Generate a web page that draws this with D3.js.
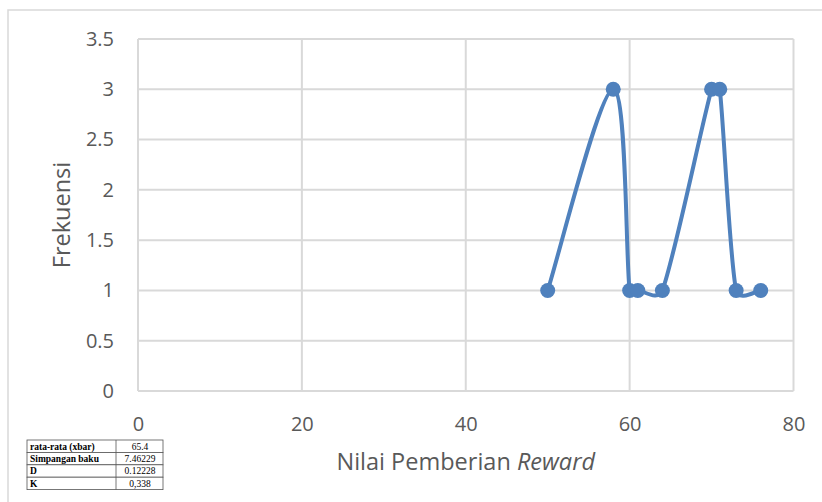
<!DOCTYPE html>
<html>
<head>
<meta charset="utf-8">
<script src="https://cdn.jsdelivr.net/npm/d3@7"></script>
<style>
  body { margin: 0; background: white; }
  svg { display: block; }
  .tick text { fill: #595959; font-family: "Open Sans", sans-serif; font-size: 20px; }
  .label { fill: #595959; font-family: "Open Sans", sans-serif; font-size: 23.5px; }
  .tabel text { font-family: "Liberation Serif", serif; font-size: 9.5px; fill: #000; }
</style>
</head>
<body>
<svg id="plot"></svg>
<script>
// data
const nilai = [50, 58, 60, 61, 64, 70, 71, 73, 76];
const frekuensi = [1, 3, 1, 1, 1, 3, 3, 1, 1];
const xTicks = [0, 20, 40, 60, 80];
const yTicks = [0, 0.5, 1, 1.5, 2, 2.5, 3, 3.5];

// tabel statistik
const statLabel = ["rata-rata (xbar)", "Simpangan baku", "D", "K"];
const statNilai = ["65.4", "7.46229", "0.12228", "0,338"];

const width = 822;
const height = 502;
const padding = {top: 39, right: 28, bottom: 111, left: 138};

const plot = d3.select("#plot")
    .attr("width", width)
    .attr("height", height);

// bingkai luar
plot.append("rect")
    .attr("x", 8).attr("y", 10)
    .attr("width", 840).attr("height", 520)
    .attr("fill", "white")
    .attr("stroke", "#d9d9d9")
    .attr("stroke-width", 1.5);

const xScale = d3.scaleLinear()
    .domain([0, 80])
    .range([padding.left, width - padding.right - 0.5]);

const yScale = d3.scaleLinear()
    .domain([0, 3.5])
    .range([height - padding.bottom, padding.top]);

// grid
plot.append("g")
    .selectAll("line.gy")
    .data(yTicks)
    .enter()
    .append("line")
      .attr("x1", xScale(0)).attr("x2", xScale(80))
      .attr("y1", (d) => yScale(d)).attr("y2", (d) => yScale(d))
      .attr("stroke", "#d9d9d9").attr("stroke-width", 2);

plot.append("g")
    .selectAll("line.gx")
    .data(xTicks)
    .enter()
    .append("line")
      .attr("x1", (d) => xScale(d)).attr("x2", (d) => xScale(d))
      .attr("y1", yScale(0)).attr("y2", yScale(3.5))
      .attr("stroke", "#d9d9d9").attr("stroke-width", 2);

// ejes
const xAxis = plot.append("g")
    .attr("transform", "translate(0," + (yScale(0) + 14) + ")")
    .call(d3.axisBottom(xScale).tickValues(xTicks).tickSize(0).tickPadding(12));
xAxis.select(".domain").remove();

const yAxis = plot.append("g")
    .attr("transform", "translate(" + (padding.left - 14) + ",0)")
    .call(d3.axisLeft(yScale).tickValues(yTicks).tickSize(0).tickPadding(10)
      .tickFormat((d) => String(d)));
yAxis.select(".domain").remove();

// garis halus ala Excel: Catmull-Rom, tapi titik kontrol dibatasi setengah panjang segmen
function garisHalus(pts) {
  const p = d3.path();
  const n = pts.length;
  const tangen = pts.map((q, i) => {
    const a = pts[Math.max(0, i - 1)];
    const b = pts[Math.min(n - 1, i + 1)];
    return [(b[0] - a[0]) / 6, (b[1] - a[1]) / 6];
  });
  const batas = (t, len) => {
    const l = Math.hypot(t[0], t[1]);
    const k = (l > len / 2 && l > 0) ? (len / 2) / l : 1;
    return [t[0] * k, t[1] * k];
  };
  p.moveTo(pts[0][0], pts[0][1]);
  for (let i = 0; i < n - 1; i++) {
    const a = pts[i], b = pts[i + 1];
    const len = Math.hypot(b[0] - a[0], b[1] - a[1]);
    const t1 = batas(tangen[i], len);
    const t2 = batas(tangen[i + 1], len);
    p.bezierCurveTo(a[0] + t1[0], a[1] + t1[1], b[0] - t2[0], b[1] - t2[1], b[0], b[1]);
  }
  return p.toString();
}

const puntos = nilai.map((v, i) => [v, frekuensi[i]]);
const piksel = puntos.map((d) => [xScale(d[0]), yScale(d[1])]);

plot.append("path")
    .attr("d", garisHalus(piksel))
    .attr("fill", "none")
    .attr("stroke", "#4f81bd")
    .attr("stroke-width", 4)
    .attr("stroke-linejoin", "round");

plot.selectAll("circle.titik")
    .data(puntos)
    .enter()
    .append("circle")
      .attr("class", "titik")
      .attr("cx", (d) => xScale(d[0]))
      .attr("cy", (d) => yScale(d[1]))
      .attr("r", 7.5)
      .attr("fill", "#4f81bd");

// label
const xLabel = plot.append("text")
    .attr("class", "label")
    .attr("x", (xScale(0) + xScale(80)) / 2)
    .attr("y", 470)
    .attr("text-anchor", "middle");
xLabel.append("tspan").text("Nilai Pemberian ");
xLabel.append("tspan").attr("font-style", "italic").text("Reward");

plot.append("text")
    .attr("class", "label")
    .attr("font-size", 22)
    .attr("transform", "translate(70," + yScale(1.75) + ") rotate(-90)")
    .attr("text-anchor", "middle")
    .text("Frekuensi");

// tabel
const rowH = 12.4;
const tabel = plot.append("g").attr("class", "tabel")
    .attr("transform", "translate(27,440)");

tabel.selectAll("rect")
    .data(statLabel)
    .enter()
    .append("rect")
      .attr("x", 0)
      .attr("y", (d, i) => i * rowH)
      .attr("width", 136)
      .attr("height", rowH)
      .attr("fill", "white")
      .attr("stroke", "#555")
      .attr("stroke-width", 0.8);

tabel.append("line")
    .attr("x1", 89).attr("x2", 89)
    .attr("y1", 0).attr("y2", rowH * statLabel.length)
    .attr("stroke", "#555").attr("stroke-width", 0.8);

tabel.selectAll("text.lbl")
    .data(statLabel)
    .enter()
    .append("text")
      .attr("class", "lbl")
      .attr("x", 3)
      .attr("y", (d, i) => i * rowH + 9.5)
      .attr("font-weight", "bold")
      .text((d) => d);

tabel.selectAll("text.val")
    .data(statNilai)
    .enter()
    .append("text")
      .attr("class", "val")
      .attr("x", 113)
      .attr("y", (d, i) => i * rowH + 9.5)
      .attr("text-anchor", "middle")
      .text((d) => d);
</script>
</body>
</html>
